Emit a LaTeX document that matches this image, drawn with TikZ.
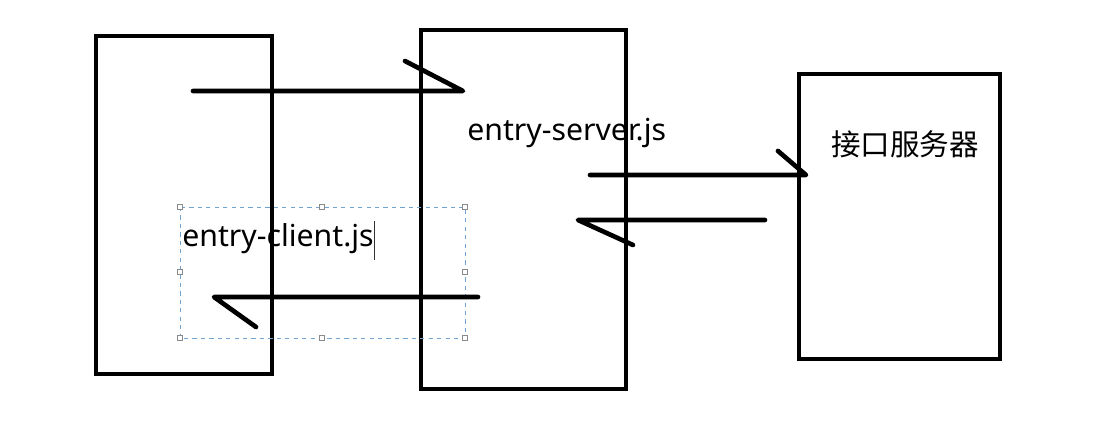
\documentclass[tikz,border=0pt]{standalone}
\usepackage{fontspec}
\setmainfont{Noto Sans}
\newfontfamily\cjk{Noto Sans CJK SC}
\usepackage{tikz}
\usetikzlibrary{positioning,calc}
\usepackage{xcolor}
\definecolor{SelBlue}{HTML}{6FA3D2}
\definecolor{HandleGray}{HTML}{8A8A8A}

\begin{document}
\begin{tikzpicture}[x=0.025cm, y=-0.025cm,
  box/.style={draw, line width=4.2pt*0.72, minimum width=#1},
  wire/.style={line width=4.6pt*0.72, line cap=round, line join=round},
  handle/.style={draw=HandleGray, fill=white, line width=0.5pt, minimum size=4pt, inner sep=0pt},
  label/.style={font=\fontsize{21.5pt}{25pt}\selectfont, inner sep=0pt}]
\useasboundingbox[fill=white] (0,0) rectangle (1094,441);
% boxes
\node[box=4.4cm, minimum height=8.45cm] (client) at (184,205) {};
\node[box=5.125cm, minimum height=8.975cm] (server) at (523.5,209.5) {};
\node[box=5.025cm, minimum height=7.125cm] (api) at (899.5,216.5) {};
% texts
\node[label, anchor=base west] (srvtxt) at (467,140) {entry-server.js};
\node[label, anchor=base west] (clitxt) at (182,246) {entry-client.js};
\node[label, anchor=west, font=\cjk\fontsize{21pt}{25pt}\selectfont] (apitxt) at (831,144) {接口服务器};
% selection frame round the client text
\coordinate (selnw) at (180,207);
\coordinate (selse) at (465,338);
\draw[SelBlue, dashed, line width=0.6pt] (selnw) rectangle (selse);
\foreach \hx in {180,322,465}
  \foreach \hy in {207,338}
    \node[handle] at (\hx,\hy) {};
\node[handle] at (180,272) {};
\node[handle] at (465,272) {};
\coordinate (curtop) at (374,221);
\coordinate (curbot) at (374,260);
\draw[black!80, line width=0.6pt] (curtop) -- (curbot);
% arrows, drawn by hand with one barb
\coordinate (a1s) at (193,91);
\coordinate (a1e) at (463,91);
\draw[wire] (a1s) -- (a1e) -- ++(-58,-30);
\coordinate (a2s) at (590,175);
\coordinate (a2e) at (806,175);
\draw[wire] (a2s) -- (a2e) -- ++(-28,-24);
\coordinate (a3s) at (765,220);
\coordinate (a3e) at (578,220);
\draw[wire] (a3s) -- (a3e) -- ++(55,25);
\coordinate (a4s) at (478,297);
\coordinate (a4e) at (214,297);
\draw[wire] (a4s) -- (a4e) -- ++(42,30);
\end{tikzpicture}
\end{document}
